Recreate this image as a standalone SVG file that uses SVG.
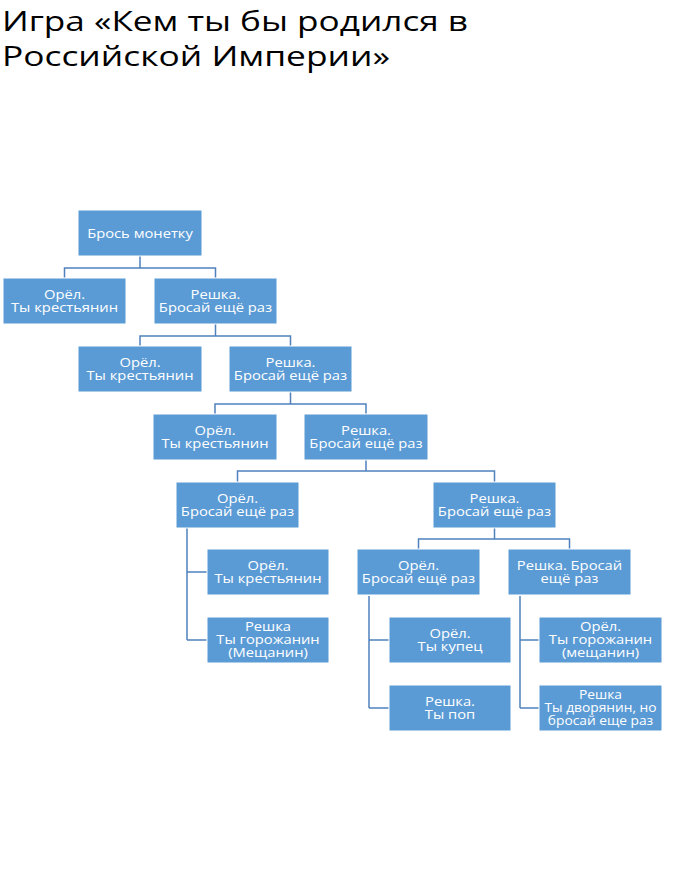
<svg xmlns="http://www.w3.org/2000/svg" width="700" height="891" viewBox="0 0 700 891">
<style>
.bg{fill:#ffffff}
.title{font-family:"Open Sans","Liberation Sans",sans-serif;font-size:27px;fill:#000}
.box{fill:#5B9BD5;stroke:#ffffff;stroke-width:1}
.t{font-family:"Open Sans","Liberation Sans",sans-serif;font-size:12.5px;fill:#ffffff;text-anchor:middle}
.c{fill:none;stroke:#4F81BD;stroke-width:1.5}
</style>
<rect class="bg" x="0" y="0" width="700" height="891"/>
<text class="title" x="2" y="31" textLength="466" lengthAdjust="spacingAndGlyphs">Игра «Кем ты бы родился в</text>
<text class="title" x="2" y="66" textLength="388" lengthAdjust="spacingAndGlyphs">Российской Империи»</text>
<g id="connectors">
<path class="c" d="M140,256 V268 H64.5 V278 M140,268 H215.5 V278"/>
<path class="c" d="M215.5,324 V336 H140 V346 M215.5,336 H290.5 V346"/>
<path class="c" d="M290.5,392 V404 H215 V414 M290.5,404 H366 V414"/>
<path class="c" d="M366,460 V471 H237.5 V482 M366,471 H494.5 V482"/>
<path class="c" d="M187,528 V640 M187,572 H207 M187,640 H207"/>
<path class="c" d="M494.5,528 V539 H418.5 V549 M494.5,539 H569.5 V549"/>
<path class="c" d="M369,596 V708 M369,640 H389 M369,708 H389"/>
<path class="c" d="M520,596 V708 M520,640 H539 M520,708 H539"/>
</g>
<g id="n0"><rect class="box" x="78" y="210" width="124" height="46"/><g transform="translate(140 0) scale(1.18 1)"><text class="t" x="0" y="238">Брось монетку</text></g></g>
<g id="n1a"><rect class="box" x="3" y="278" width="123" height="46"/><g transform="translate(64.5 0) scale(1.18 1)"><text class="t" x="0" y="299">Орёл.</text><text class="t" x="0" y="312">Ты крестьянин</text></g></g>
<g id="n1b"><rect class="box" x="154" y="278" width="123" height="46"/><g transform="translate(215.5 0) scale(1.18 1)"><text class="t" x="0" y="299">Решка.</text><text class="t" x="0" y="312">Бросай ещё раз</text></g></g>
<g id="n2a"><rect class="box" x="78" y="346" width="124" height="46"/><g transform="translate(140 0) scale(1.18 1)"><text class="t" x="0" y="367">Орёл.</text><text class="t" x="0" y="380">Ты крестьянин</text></g></g>
<g id="n2b"><rect class="box" x="229" y="346" width="123" height="46"/><g transform="translate(290.5 0) scale(1.18 1)"><text class="t" x="0" y="367">Решка.</text><text class="t" x="0" y="380">Бросай ещё раз</text></g></g>
<g id="n3a"><rect class="box" x="153" y="414" width="124" height="46"/><g transform="translate(215 0) scale(1.18 1)"><text class="t" x="0" y="435">Орёл.</text><text class="t" x="0" y="448">Ты крестьянин</text></g></g>
<g id="n3b"><rect class="box" x="304" y="414" width="124" height="46"/><g transform="translate(366 0) scale(1.18 1)"><text class="t" x="0" y="435">Решка.</text><text class="t" x="0" y="448">Бросай ещё раз</text></g></g>
<g id="n4a"><rect class="box" x="176" y="482" width="123" height="46"/><g transform="translate(237.5 0) scale(1.18 1)"><text class="t" x="0" y="503">Орёл.</text><text class="t" x="0" y="516">Бросай ещё раз</text></g></g>
<g id="n4b"><rect class="box" x="433" y="482" width="123" height="46"/><g transform="translate(494.5 0) scale(1.18 1)"><text class="t" x="0" y="503">Решка.</text><text class="t" x="0" y="516">Бросай ещё раз</text></g></g>
<g id="n5a1"><rect class="box" x="207" y="549" width="122" height="46"/><g transform="translate(268 0) scale(1.18 1)"><text class="t" x="0" y="570">Орёл.</text><text class="t" x="0" y="583">Ты крестьянин</text></g></g>
<g id="n5a2"><rect class="box" x="207" y="617" width="122" height="46"/><g transform="translate(268 0) scale(1.18 1)"><text class="t" x="0" y="631">Решка</text><text class="t" x="0" y="644">Ты горожанин</text><text class="t" x="0" y="657">(Мещанин)</text></g></g>
<g id="n5b1"><rect class="box" x="357" y="549" width="123" height="46"/><g transform="translate(418.5 0) scale(1.18 1)"><text class="t" x="0" y="570">Орёл.</text><text class="t" x="0" y="583">Бросай ещё раз</text></g></g>
<g id="n5b2"><rect class="box" x="508" y="549" width="123" height="46"/><g transform="translate(569.5 0) scale(1.18 1)"><text class="t" x="0" y="570">Решка. Бросай</text><text class="t" x="0" y="583">ещё раз</text></g></g>
<g id="n6a1"><rect class="box" x="389" y="617" width="122" height="46"/><g transform="translate(450 0) scale(1.18 1)"><text class="t" x="0" y="638">Орёл.</text><text class="t" x="0" y="651">Ты купец</text></g></g>
<g id="n6a2"><rect class="box" x="389" y="685" width="122" height="46"/><g transform="translate(450 0) scale(1.18 1)"><text class="t" x="0" y="706">Решка.</text><text class="t" x="0" y="719">Ты поп</text></g></g>
<g id="n6b1"><rect class="box" x="539" y="617" width="123" height="46"/><g transform="translate(600.5 0) scale(1.18 1)"><text class="t" x="0" y="631">Орёл.</text><text class="t" x="0" y="644">Ты горожанин</text><text class="t" x="0" y="657">(мещанин)</text></g></g>
<g id="n6b2"><rect class="box" x="539" y="685" width="123" height="46"/><g transform="translate(600.5 0) scale(1.1 1)"><text class="t" x="0" y="699">Решка</text><text class="t" x="0" y="712">Ты дворянин, но</text><text class="t" x="0" y="725">бросай еще раз</text></g></g>
</svg>
